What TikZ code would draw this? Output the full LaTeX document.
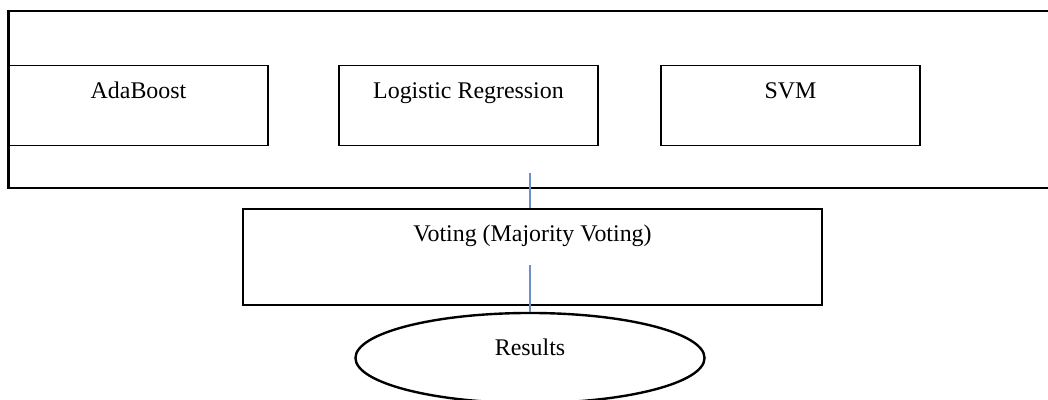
\documentclass[tikz,border=0pt]{standalone}
\usepackage{fontspec}
\setmainfont{Liberation Serif}
\usetikzlibrary{shapes.geometric}

\definecolor{linkblue}{RGB}{110,145,195}

\begin{document}
\begin{tikzpicture}[x=0.025cm, y=-0.025cm,
  every node/.style={font=\fontsize{17pt}{20pt}\selectfont},
  model/.style={rectangle, draw, line width=1.4pt, minimum width=6.475cm, minimum height=2.0cm, inner sep=0pt},
  title/.style={anchor=base, yshift=-0.85cm}]
  \useasboundingbox (0,0) rectangle (1048,400);
  \clip (0,0) rectangle (1048,400);
  \node[rectangle, draw, line width=2pt, minimum width=26.275cm, minimum height=4.425cm] (ensemble) at (534.5, 99.5) {};
  \node[model, label={[title]north:AdaBoost}] (ada) at (138.5, 105.5) {};
  \node[model, label={[title]north:Logistic Regression}] (logreg) at (468.5, 105.5) {};
  \node[model, label={[title]north:SVM}] (svm) at (790.5, 105.5) {};
  \node[rectangle, draw, line width=2pt, minimum width=14.475cm, minimum height=2.4cm, label={[title]north:Voting (Majority Voting)}] (vote) at (532.5, 257) {};
  \node[ellipse, draw, line width=1.7pt, minimum width=8.725cm, minimum height=2.25cm, inner sep=0pt, label={[anchor=base, yshift=-1.1cm]north:Results}] (results) at (530, 358) {};
  \coordinate (top) at (530, 173);
  \coordinate (mid) at (530, 265);
  \draw[linkblue, line width=0.8pt] (top) -- (top |- vote.north);
  \draw[linkblue, line width=0.8pt] (mid) -- (results.north);
\end{tikzpicture}
\end{document}
